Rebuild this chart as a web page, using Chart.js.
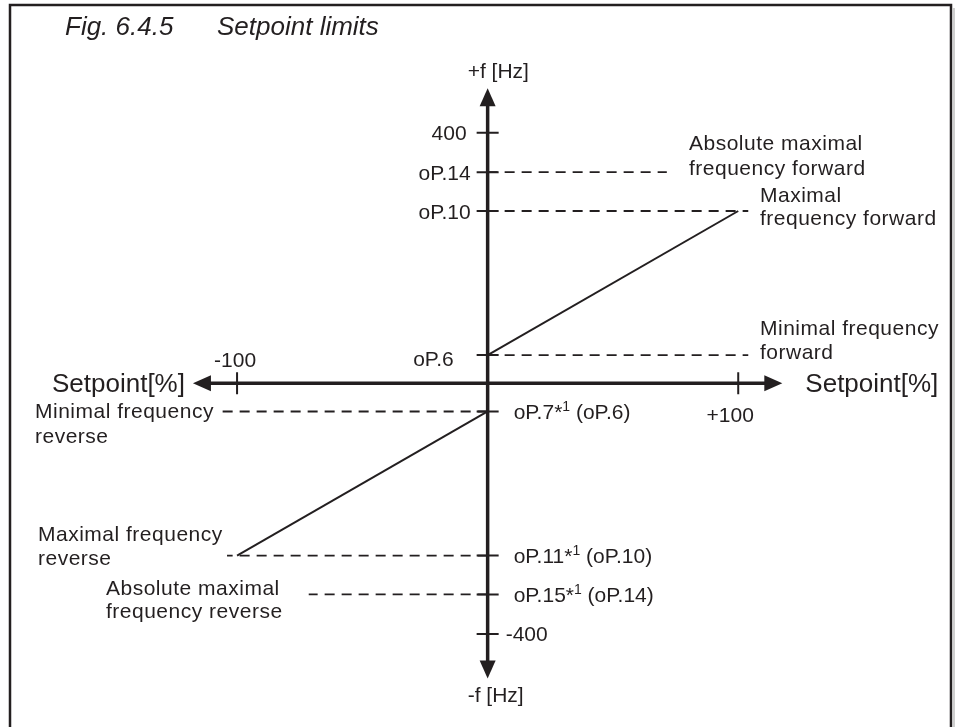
<!DOCTYPE html>
<html>
<head>
<meta charset="utf-8">
<script src="https://cdn.jsdelivr.net/npm/chart.js@4.4.1/dist/chart.umd.min.js"></script>
<style>
  html, body { margin: 0; padding: 0; background: #fff; }
  #wrap { width: 960px; height: 727px; }
</style>
</head>
<body>
<div id="wrap"><canvas id="myChart" width="960" height="727"></canvas></div>
<script>
// values (setpoint in %, frequency in Hz)
var setpointTicks = [-100, 100];
var setpointTickLabels = ['-100', '+100'];
var freqTicks = [400, -400];
var freqTickLabels = ['400', '-400'];

var fwdLevelHz = [45, 275, 337];
var fwdLevelLabels = ['oP.6', 'oP.10', 'oP.14'];
var revLevelHz = [-45, -275, -337];
var revLevelLabels = ['oP.7', 'oP.11', 'oP.15'];
var revLevelDefaults = ['(oP.6)', '(oP.10)', '(oP.14)'];

var fwdRampX = [0, 100];
var fwdRampY = [45, 275];
var revRampX = [0, -100];
var revRampY = [-45, -275];

var fwdDashEnd = [104, 104, 71.5];
var revDashEnd = [-106, -104, -71.4];

var fwdNotes = [['Minimal frequency', 'forward'], ['Maximal', 'frequency forward'], ['Absolute maximal', 'frequency forward']];
var revNotes = [['Minimal frequency', 'reverse'], ['Maximal frequency', 'reverse'], ['Absolute maximal', 'frequency reverse']];

var axisReachX = 117.6;
var axisReachY = 471;

var ink = '#231f20';
var font = '"Liberation Sans", Arial, Helvetica, sans-serif';

function pts(xs, ys) {
    var out = [];
    for (var i = 0; i < xs.length; i++) out.push({x: xs[i], y: ys[i]});
    return out;
}

var datasets = [];
datasets.push({data: pts(fwdRampX, fwdRampY), borderColor: ink, borderWidth: 2, showLine: true, pointRadius: 0});
datasets.push({data: pts(revRampX, revRampY), borderColor: ink, borderWidth: 2, showLine: true, pointRadius: 0});
for (var i = 0; i < fwdLevelHz.length; i++) {
    datasets.push({data: pts([0, fwdDashEnd[i]], [fwdLevelHz[i], fwdLevelHz[i]]), borderColor: ink, borderWidth: 1.8, borderDash: [10, 7], showLine: true, pointRadius: 0});
    datasets.push({data: pts([0, revDashEnd[i]], [revLevelHz[i], revLevelHz[i]]), borderColor: ink, borderWidth: 1.8, borderDash: [10, 7], showLine: true, pointRadius: 0});
}

function txt(ctx, s, x, y, align, size, italic, spacing) {
    ctx.font = (italic ? 'italic ' : '') + size + 'px ' + font;
    ctx.textAlign = align || 'left';
    ctx.textBaseline = 'alphabetic';
    ctx.letterSpacing = (spacing || 0) + 'px';
    ctx.fillStyle = ink;
    ctx.fillText(s, x, y);
    var w = ctx.measureText(s).width;
    ctx.letterSpacing = '0px';
    return w;
}

function arrow(ctx, x, y, dx, dy) {
    // tip at (x,y), pointing along (dx,dy)
    var len = 18, half = 8;
    var bx = x - dx * len, by = y - dy * len;
    ctx.beginPath();
    ctx.moveTo(x, y);
    ctx.lineTo(bx - dy * half, by + dx * half);
    ctx.lineTo(bx + dy * half, by - dx * half);
    ctx.closePath();
    ctx.fill();
}

var diagram = {
    id: 'diagram',
    beforeDatasetsDraw: function (chart) {
        var ctx = chart.ctx;
        ctx.save();
        ctx.strokeStyle = '#cfcfcf';
        ctx.lineWidth = 2;
        ctx.beginPath();
        ctx.moveTo(954, 8); ctx.lineTo(954, 727);
        ctx.stroke();
        ctx.strokeStyle = ink;
        ctx.lineWidth = 2.5;
        ctx.beginPath();
        ctx.moveTo(10, 730); ctx.lineTo(10, 5); ctx.lineTo(951, 5); ctx.lineTo(951, 730);
        ctx.stroke();
        txt(ctx, 'Fig. 6.4.5', 65, 35, 'left', 26, true);
        txt(ctx, 'Setpoint limits', 217, 35, 'left', 26, true);
        ctx.restore();
    },
    afterDatasetsDraw: function (chart) {
        var ctx = chart.ctx, xs = chart.scales.x, ys = chart.scales.y;
        var x0 = xs.getPixelForValue(0), y0 = ys.getPixelForValue(0);
        var xl = xs.getPixelForValue(-axisReachX), xr = xs.getPixelForValue(axisReachX);
        var yt = ys.getPixelForValue(axisReachY), yb = ys.getPixelForValue(-axisReachY);
        ctx.save();
        ctx.strokeStyle = ink;
        ctx.fillStyle = ink;
        // axes
        ctx.lineWidth = 3.5;
        ctx.beginPath();
        ctx.moveTo(xl + 10, y0); ctx.lineTo(xr - 10, y0);
        ctx.moveTo(x0, yt + 10); ctx.lineTo(x0, yb - 10);
        ctx.stroke();
        arrow(ctx, xr, y0, 1, 0);
        arrow(ctx, xl, y0, -1, 0);
        arrow(ctx, x0, yt, 0, -1);
        arrow(ctx, x0, yb, 0, 1);
        // ticks
        ctx.lineWidth = 2;
        ctx.beginPath();
        for (var i = 0; i < setpointTicks.length; i++) {
            var tx = xs.getPixelForValue(setpointTicks[i]);
            ctx.moveTo(tx, y0 - 11); ctx.lineTo(tx, y0 + 11);
        }
        var allY = freqTicks.concat(fwdLevelHz, revLevelHz);
        for (var j = 0; j < allY.length; j++) {
            var ty = ys.getPixelForValue(allY[j]);
            ctx.moveTo(x0 - 11, ty); ctx.lineTo(x0 + 11, ty);
        }
        ctx.stroke();

        // axis titles
        txt(ctx, '+f [Hz]', x0 - 20, yt - 10, 'left', 21);
        txt(ctx, '-f [Hz]', x0 - 20, yb + 24, 'left', 21);
        txt(ctx, 'Setpoint[%]', xl - 8, y0 + 9, 'right', 26);
        txt(ctx, 'Setpoint[%]', xr + 23, y0 + 9, 'left', 26);

        // setpoint tick labels
        txt(ctx, setpointTickLabels[0], xs.getPixelForValue(setpointTicks[0]) - 2, y0 - 16, 'center', 21);
        txt(ctx, setpointTickLabels[1], xs.getPixelForValue(setpointTicks[1]) - 8, y0 + 39, 'center', 21);

        // frequency tick labels
        txt(ctx, freqTickLabels[0], x0 - 21, ys.getPixelForValue(freqTicks[0]) + 7.5, 'right', 21);
        txt(ctx, freqTickLabels[1], x0 + 18, ys.getPixelForValue(freqTicks[1]) + 7.5, 'left', 21);

        // forward level labels (left of axis)
        for (var k = 0; k < fwdLevelHz.length; k++) {
            var ly = ys.getPixelForValue(fwdLevelHz[k]);
            if (k === 0) txt(ctx, fwdLevelLabels[k], x0 - 34, ly + 11, 'right', 21);
            else txt(ctx, fwdLevelLabels[k], x0 - 17, ly + 7.5, 'right', 21);
        }
        // reverse level labels (right of axis)
        for (var m = 0; m < revLevelHz.length; m++) {
            var ry = ys.getPixelForValue(revLevelHz[m]) + 7.5;
            var cx = x0 + 26;
            cx += txt(ctx, revLevelLabels[m] + '*', cx, ry, 'left', 21);
            cx += txt(ctx, '1', cx, ry - 8, 'left', 14);
            txt(ctx, ' ' + revLevelDefaults[m], cx, ry, 'left', 21);
        }

        // notes
        var fwdNoteX = [760, 760, 689];
        var fwdNoteDy = [[-20, 4], [-9, 14], [-22, 3]];
        for (var a = 0; a < fwdNotes.length; a++) {
            var fy = ys.getPixelForValue(fwdLevelHz[a]);
            txt(ctx, fwdNotes[a][0], fwdNoteX[a], fy + fwdNoteDy[a][0], 'left', 21, false, 0.5);
            txt(ctx, fwdNotes[a][1], fwdNoteX[a], fy + fwdNoteDy[a][1], 'left', 21, false, 0.5);
        }
        var revNoteX = [35, 38, 106];
        var revNoteDy = [[7, 32], [-15, 9], [1, 24]];
        for (var b = 0; b < revNotes.length; b++) {
            var vy = ys.getPixelForValue(revLevelHz[b]);
            txt(ctx, revNotes[b][0], revNoteX[b], vy + revNoteDy[b][0], 'left', 21, false, 0.5);
            txt(ctx, revNotes[b][1], revNoteX[b], vy + revNoteDy[b][1], 'left', 21, false, 0.5);
        }
        ctx.restore();
    }
};

var ctx = document.getElementById('myChart').getContext('2d');
var myChart = new Chart(ctx, {
    type: 'scatter',
    data: {datasets: datasets},
    options: {
        responsive: false,
        animation: false,
        devicePixelRatio: 1,
        layout: {padding: 0},
        plugins: {legend: {display: false}, tooltip: {enabled: false}},
        scales: {
            x: {type: 'linear', min: -194.6, max: 188.5, display: false},
            y: {type: 'linear', min: -548.6, max: 611.8, display: false}
        }
    },
    plugins: [diagram]
});
</script>
</body>
</html>
